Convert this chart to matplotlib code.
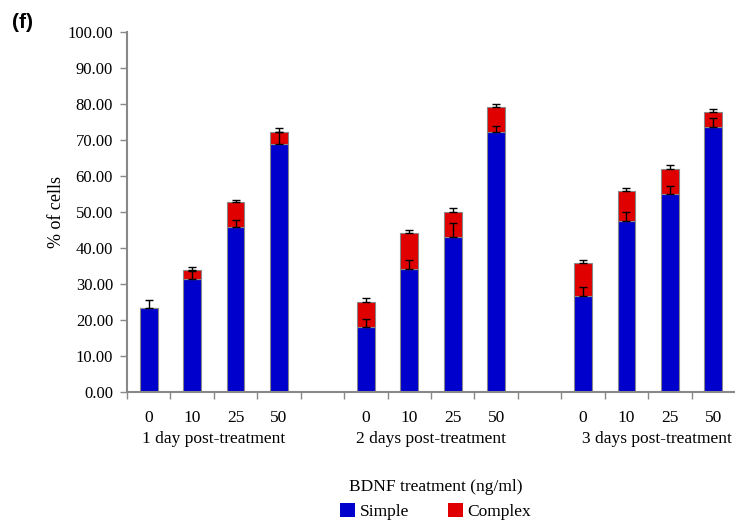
import numpy as np
import matplotlib.pyplot as plt
from matplotlib.patches import Patch

# values (% of cells)
doses = ['0', '10', '25', '50']
groups = ['1 day post-treatment', '2 days post-treatment', '3 days post-treatment']
simple = np.array([23.3, 31.4, 45.9, 68.8, 18.1, 34.1, 43.1, 72.3, 26.7, 47.5, 55.0, 73.6])
complex_ = np.array([0.0, 2.4, 6.8, 3.5, 6.9, 10.0, 6.8, 6.8, 9.0, 8.2, 7.0, 4.1])
simple_err = np.array([2.3, 2.2, 1.9, 3.5, 2.3, 2.5, 3.8, 1.7, 2.5, 2.4, 2.3, 2.5])
complex_err = np.array([0.0, 1.0, 0.7, 0.9, 1.0, 1.0, 1.1, 1.0, 1.0, 1.1, 1.1, 1.0])

blue = '#0000CC'
red = '#E00000'
grey = '#888888'

plt.rcParams['font.family'] = ['Liberation Serif', 'DejaVu Serif']
fs = 12.5

# 4 bars, a gap, 4 bars, a gap, 4 bars
pos = np.array([0, 1, 2, 3, 5, 6, 7, 8, 10, 11, 12, 13])
total = simple + complex_

fig = plt.figure(figsize=(7.35, 5.23), dpi=100)
ax = fig.add_axes([127/735, 1 - 392/523, 1 - 127/735, 360/523])

ax.bar(pos, simple, width=0.41, color=blue, edgecolor=grey, linewidth=0.8, zorder=2)
ax.bar(pos, complex_, bottom=simple, width=0.41, color=red, edgecolor=grey, linewidth=0.8, zorder=2)
ax.errorbar(pos, simple, yerr=[np.zeros_like(simple), simple_err], fmt='none',
            ecolor='black', elinewidth=1, capsize=2.6, capthick=1, zorder=3)
m = complex_ > 0
ax.errorbar(pos[m], total[m], yerr=[np.zeros(m.sum()), complex_err[m]], fmt='none',
            ecolor='black', elinewidth=1, capsize=2.6, capthick=1, zorder=3)

ax.set_xlim(-0.5, 13.5)
ax.set_ylim(0, 100)
ax.set_yticks(np.arange(0, 101, 10))
ax.set_yticklabels(['%.2f' % v for v in np.arange(0, 101, 10)], fontsize=12)
ax.set_xticks(np.arange(-0.5, 13, 1))
ax.set_xticklabels([])
ax.set_xticks(pos, minor=True)
ax.set_xticklabels(doses * 3, minor=True, fontsize=fs)
ax.tick_params(axis='x', which='minor', length=0, pad=13)
ax.tick_params(axis='both', which='major', length=5, width=1, color=grey)
ax.tick_params(axis='y', pad=5)

for s in ['top', 'right']:
    ax.spines[s].set_visible(False)
for s in ['left', 'bottom']:
    ax.spines[s].set_color(grey)
    ax.spines[s].set_linewidth(1.5)

ax.set_ylabel('% of cells', fontsize=13, labelpad=2)

centers = [1.5, 6.5, 11.7]
for c, g in zip(centers, groups):
    ax.text(c, -0.13, g, transform=ax.get_xaxis_transform(), ha='center', va='center',
            fontsize=fs)

handles = [Patch(facecolor=blue, edgecolor='none', label='Simple'),
           Patch(facecolor=red, edgecolor='none', label='Complex')]
leg = fig.legend(handles=handles, loc='center', bbox_to_anchor=(0.593, 0.045), ncol=2,
                 frameon=False, fontsize=fs, title='BDNF treatment (ng/ml)',
                 title_fontsize=fs, handlelength=0.85, handleheight=0.85,
                 handletextpad=0.3, columnspacing=2.2)

fig.text(12/735, 1 - 22/523, '(f)', fontsize=15, fontweight='bold',
         family='Liberation Sans', va='center', ha='left')

fig.savefig('out.png', dpi=100)
